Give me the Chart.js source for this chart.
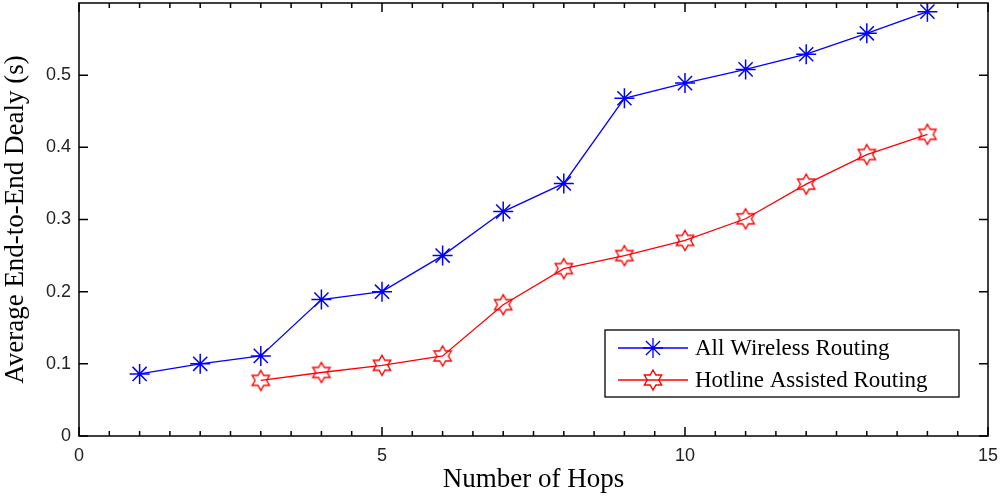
<!DOCTYPE html>
<html>
<head>
<meta charset="utf-8">
<script src="https://cdn.jsdelivr.net/npm/chart.js@4.4.1/dist/chart.umd.min.js"></script>
<style>
  html, body { margin: 0; padding: 0; background: #fff; }
  #wrap { width: 1000px; height: 496px; }
</style>
</head>
<body>
<div id="wrap"><canvas id="delayChart" width="1000" height="496"></canvas></div>
<script>
// data
const hopsWireless = [1, 2, 3, 4, 5, 6, 7, 8, 9, 10, 11, 12, 13, 14];
const delayWireless = [0.086, 0.100, 0.111, 0.189, 0.200, 0.250, 0.311, 0.350, 0.468, 0.489, 0.508, 0.529, 0.558, 0.588];
const hopsHotline = [3, 4, 5, 6, 7, 8, 9, 10, 11, 12, 13, 14];
const delayHotline = [0.077, 0.088, 0.098, 0.111, 0.182, 0.232, 0.250, 0.271, 0.301, 0.349, 0.390, 0.418];
const xTicks = [0, 5, 10, 15];
const yTicks = [0, 0.1, 0.2, 0.3, 0.4, 0.5];
const seriesNames = ["All Wireless Routing", "Hotline Assisted Routing"];

// hexagram marker (matlab 'h')
function hexagram(r, color) {
    const c = document.createElement("canvas");
    const s = Math.ceil(r * 2 + 4);
    c.width = s; c.height = s;
    const g = c.getContext("2d");
    const cx = s / 2, cy = s / 2, ri = r / Math.sqrt(3);
    g.beginPath();
    for (let i = 0; i < 12; i++) {
        const a = -Math.PI / 2 + i * Math.PI / 6;
        const rr = i % 2 === 0 ? r : ri;
        const px = cx + rr * Math.cos(a), py = cy + rr * Math.sin(a);
        if (i === 0) g.moveTo(px, py); else g.lineTo(px, py);
    }
    g.closePath();
    g.strokeStyle = color;
    g.lineWidth = 1.4;
    g.stroke();
    return c;
}
const hexRed = hexagram(10, "#ff0000");

// frame + inward ticks like matlab
const framePlugin = {
    id: "frame",
    beforeDatasetsDraw(chart) {
        const { ctx, chartArea: a, scales: { x, y } } = chart;
        ctx.save();
        ctx.strokeStyle = "#000";
        ctx.lineWidth = 1.5;
        ctx.beginPath();
        for (let v = 0; v <= 15; v += 0.5) {
            const px = x.getPixelForValue(v);
            const len = xTicks.includes(v) ? 9 : 5;
            ctx.moveTo(px, a.bottom); ctx.lineTo(px, a.bottom - len);
            ctx.moveTo(px, a.top); ctx.lineTo(px, a.top + len);
        }
        for (const v of yTicks) {
            const py = y.getPixelForValue(v);
            ctx.moveTo(a.left, py); ctx.lineTo(a.left + 9, py);
            ctx.moveTo(a.right, py); ctx.lineTo(a.right - 9, py);
        }
        ctx.stroke();
        ctx.strokeRect(a.left, a.top, a.right - a.left, a.bottom - a.top);
        ctx.restore();
    }
};

// legend box with line + marker
const legendPlugin = {
    id: "boxLegend",
    afterDraw(chart) {
        const { ctx } = chart;
        const bx = 605, by = 330, bw = 354, bh = 67;
        ctx.save();
        ctx.fillStyle = "#fff";
        ctx.fillRect(bx, by, bw, bh);
        ctx.strokeStyle = "#000";
        ctx.lineWidth = 1.3;
        ctx.strokeRect(bx, by, bw, bh);
        chart.data.datasets.forEach((ds, i) => {
            const ry = by + 18 + i * 32;
            ctx.strokeStyle = ds.borderColor;
            ctx.lineWidth = 1.3;
            ctx.beginPath();
            ctx.moveTo(618, ry); ctx.lineTo(688, ry);
            ctx.stroke();
            Chart.helpers.drawPoint(ctx, {
                pointStyle: ds.pointStyle, radius: ds.pointRadius,
                borderWidth: ds.pointBorderWidth, rotation: 0
            }, 653, ry);
            ctx.fillStyle = "#000";
            ctx.font = "23px 'Liberation Serif'";
            ctx.textBaseline = "middle";
            ctx.textAlign = "left";
            ctx.fillText(ds.label, 695, ry + 1);
        });
        ctx.restore();
    }
};

new Chart(document.getElementById("delayChart"), {
    type: "line",
    data: {
        datasets: [{
            label: seriesNames[0],
            data: hopsWireless.map((h, i) => ({ x: h, y: delayWireless[i] })),
            borderColor: "#0000ff", backgroundColor: "#0000ff",
            borderWidth: 1.3, pointStyle: "star", pointRadius: 10,
            pointBorderWidth: 1.5, pointBorderColor: "#0000ff", tension: 0
        }, {
            label: seriesNames[1],
            data: hopsHotline.map((h, i) => ({ x: h, y: delayHotline[i] })),
            borderColor: "#ff0000", backgroundColor: "#ff0000",
            borderWidth: 1.3, pointStyle: hexRed, pointRadius: 10,
            pointBorderWidth: 1.3, tension: 0
        }]
    },
    options: {
        responsive: false, animation: false,
        layout: { autoPadding: false, padding: { left: 0, top: 3, right: 12, bottom: 0 } },
        plugins: { legend: { display: false }, tooltip: { enabled: false } },
        scales: {
            x: {
                type: "linear", min: 0, max: 15,
                grid: { display: false, drawTicks: false }, border: { display: false },
                afterBuildTicks: s => { s.ticks = xTicks.map(v => ({ value: v })); },
                afterFit: s => { s.height = 60; s.paddingLeft = 0; s.paddingRight = 0; },
                ticks: { padding: 9, color: "#222", font: { family: "'Liberation Sans'", size: 18 } },
                title: { display: true, text: "Number of Hops", color: "#000", padding: 0,
                         font: { family: "'Liberation Serif'", size: 27 } }
            },
            y: {
                min: 0, max: 0.6,
                grid: { display: false, drawTicks: false }, border: { display: false },
                afterBuildTicks: s => { s.ticks = yTicks.map(v => ({ value: v })); },
                afterFit: s => { s.width = 79; s.paddingTop = 0; s.paddingBottom = 0; },
                ticks: { padding: 8, color: "#222", font: { family: "'Liberation Sans'", size: 18 },
                         callback: v => v === 0 ? "0" : v.toFixed(1) },
                title: { display: true, text: "Average End-to-End Dealy (s)", color: "#000", padding: 0,
                         font: { family: "'Liberation Serif'", size: 27 } }
            }
        }
    },
    plugins: [framePlugin, legendPlugin]
});
</script>
</body>
</html>
